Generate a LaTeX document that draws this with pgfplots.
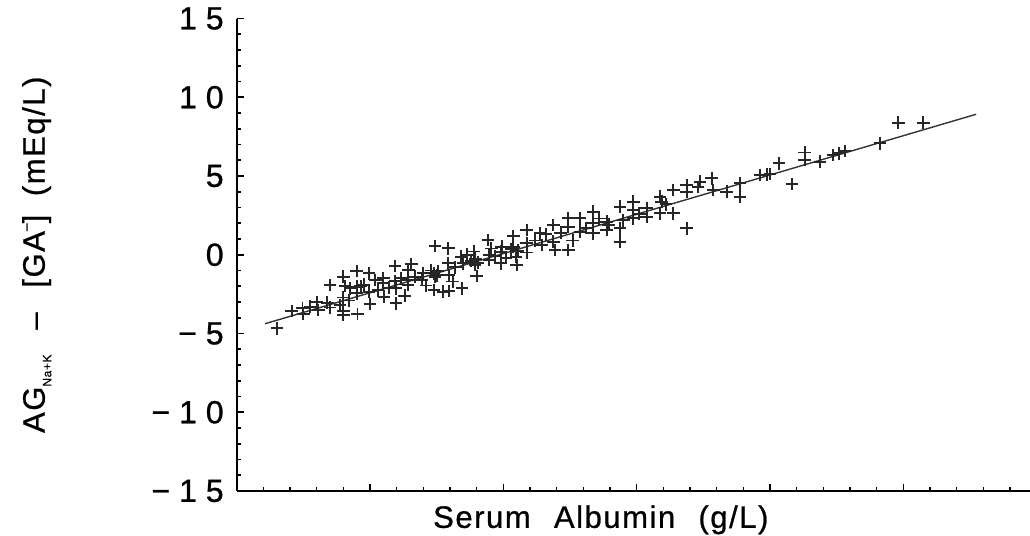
\documentclass[border=0pt]{standalone}
\usepackage{fontspec}
\setmainfont{Liberation Sans}
\newfontfamily\tickfont[LetterSpace=28,FakeBold=0.8]{Liberation Sans}
\newfontfamily\labfont[LetterSpace=5,FakeBold=0.8]{Liberation Sans}
\usepackage{pgfplots}
\pgfplotsset{compat=1.18}
\pgfplotstableread{
x y
3.02 -4.67
4.13 -3.57
4.94 -3.40
5.00 -3.76
6.00 -3.00
6.12 -3.51
7.00 -1.92
7.00 -3.35
7.75 -3.19
8.00 -1.39
8.12 -1.98
8.00 -2.71
8.00 -3.57
8.00 -3.83
8.50 -2.13
9.00 -1.03
9.00 -2.03
9.00 -2.45
9.06 -3.76
9.92 -1.18
9.92 -2.35
10.00 -3.13
11.00 -1.50
11.00 -1.79
11.05 -2.66
11.87 -0.71
11.87 -1.67
11.95 -2.13
11.95 -3.08
12.87 -0.97
12.85 -1.60
12.85 -1.92
13.90 -1.60
14.00 -1.18
14.80 -1.18
14.87 0.56
15.87 0.41
14.80 -2.24
15.50 -2.35
14.87 -1.41
15.87 -0.54
15.92 -1.29
15.92 -2.30
16.90 -2.13
16.82 -0.12
17.00 -0.54
17.80 0.21
17.87 -0.65
18.00 -1.35
18.85 0.94
18.92 -0.02
18.92 -0.33
19.80 -0.54
19.80 0.19
19.87 0.51
20.75 1.19
20.75 0.51
20.95 -0.12
21.00 -0.65
21.75 1.57
21.75 0.73
21.75 0.14
22.75 1.36
22.87 0.62
23.75 1.89
23.75 0.83
23.87 0.30
24.87 2.31
24.87 1.78
24.87 0.30
25.75 2.31
25.75 1.46
26.75 2.73
26.75 2.00
26.75 1.36
27.75 2.10
27.75 1.57
28.75 3.05
28.75 1.68
28.75 0.83
29.75 3.37
29.75 2.84
29.75 2.31
30.75 2.95
30.75 2.42
31.75 3.69
31.87 3.37
31.75 2.63
32.75 4.11
32.75 2.63
33.75 4.43
33.75 4.00
33.75 1.68
34.75 4.64
35.62 4.85
35.75 4.11
36.75 4.00
37.75 4.54
37.75 3.69
39.25 5.06
40.00 5.13
40.67 5.81
41.65 4.49
42.60 6.49
42.60 6.02
43.75 5.91
44.75 6.33
45.62 6.59
48.25 7.08
49.62 8.39
51.50 8.39
9.30 -2.00
9.55 -1.90
14.60 -1.00
15.10 -1.05
15.00 -1.30
17.60 -0.40
18.10 -0.50
17.90 -0.25
20.60 0.35
21.10 0.25
10.60 -2.25
12.30 -1.50
13.40 -1.40
6.80 -3.05
5.50 -3.30
16.40 -0.80
19.40 -0.10
22.40 0.90
24.30 1.40
26.20 1.70
30.20 2.60
27.20 2.30
34.60 4.30
39.80 5.10
45.20 6.45
8.40 -2.90
10.40 -1.60
11.40 -2.10
12.60 -2.60
13.10 -0.60
14.20 -1.95
16.20 -1.70
17.30 0.00
19.10 0.40
20.20 -0.20
23.20 1.30
25.20 0.90
27.90 1.90
29.00 2.20
32.20 3.20
}\pts
\begin{document}
\begin{tikzpicture}
\begin{axis}[
  scale only axis,
  width=396.65pt, height=236.25pt,
  xmin=0, xmax=59.5, ymin=-15, ymax=15,
  axis x line=bottom, axis y line=left,
  axis line style={-, line width=1pt, black},
  tick align=inside,
  xtick={0,10,20,30,40,50}, minor xtick={2,4,6,8,12,14,16,18,22,24,26,28,32,34,36,38,42,44,46,48,52,54,56,58},
  xticklabels={},
  ytick={-15,-10,-5,0,5,10,15},
  yticklabels={−15,−10,−5,0,5,10,15},
  minor ytick={-14,-13,-12,-11,-9,-8,-7,-6,-4,-3,-2,-1,1,2,3,4,6,7,8,9,11,12,13,14},
  major tick length=3.5pt, minor tick length=2pt,
  every tick/.style={black, line width=0.8pt},
  yticklabel style={font=\tickfont\fontsize{16}{18}\selectfont, xshift=-3pt},
  xlabel={\labfont\fontsize{15.5}{18}\selectfont Serum\hspace{0.75em}Albumin\hspace{0.75em}(g/L)},
  xlabel style={at={(axis description cs:0.459,-0.061)}, anchor=center},
  ylabel={\labfont\fontsize{15.5}{18}\selectfont AG\raisebox{-0.4ex}{\fontsize{6}{7}\selectfont Na+K}\hspace{0.8em}–\hspace{0.8em}[GA\raisebox{0.85ex}{\fontsize{7}{8}\selectfont –}]\hspace{0.6em}(mEq/L)},
  ylabel style={at={(axis description cs:-0.252,0.5)}, anchor=center},
  clip=false,
]
\addplot[only marks, mark=+, mark size=3.2pt, mark options={line width=0.9pt, black!85}] table[x=x,y=y] {\pts};
\addplot[black!80, line width=0.7pt] coordinates {(2.12,-4.38) (55.46,8.92)};
\end{axis}
\pgfresetboundingbox
\path[use as bounding box] (-118.35pt,-22.5pt) rectangle (396.65pt,245.5pt);
\end{tikzpicture}
\end{document}
